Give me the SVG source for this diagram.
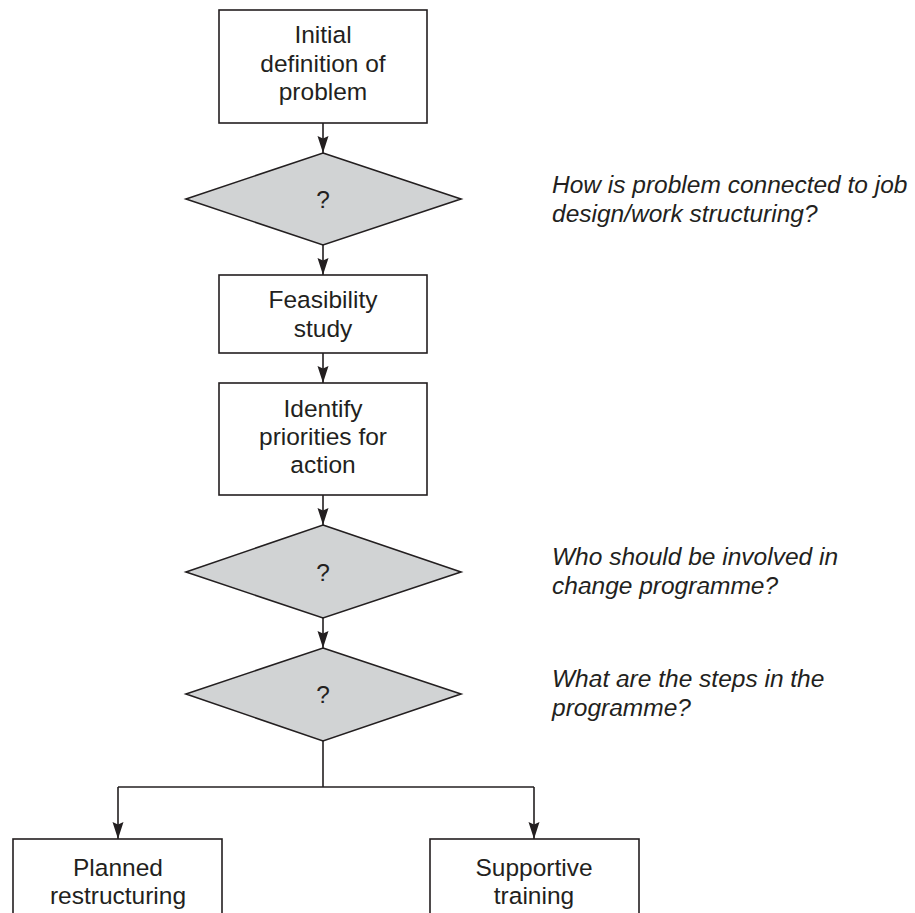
<svg xmlns="http://www.w3.org/2000/svg" width="915" height="913" viewBox="0 0 915 913">
  <defs>
    <marker id="arrow" viewBox="0 0 17 12" refX="17" refY="6" markerWidth="17" markerHeight="12" markerUnits="userSpaceOnUse" orient="auto">
      <path d="M0,0.5 L17,6 L0,11.5 L2.5,6 Z" fill="#231f20"/>
    </marker>
    <style>
      .box { fill: #ffffff; stroke: #231f20; stroke-width: 1.6; }
      .dia { fill: #d1d3d4; stroke: #231f20; stroke-width: 1.6; }
      .lbl { font-family: "Liberation Sans", Arial, sans-serif; font-size: 24.5px; fill: #231f20; text-anchor: middle; }
      .note { font-family: "Liberation Sans", Arial, sans-serif; font-size: 24.5px; font-style: italic; fill: #231f20; }
      .conn { fill: none; stroke: #231f20; stroke-width: 1.6; }
    </style>
  </defs>

  <rect width="915" height="913" fill="#ffffff"/>

  <!-- connectors -->
  <g id="connectors">
    <path class="conn" d="M323,123 V153" marker-end="url(#arrow)"/>
    <path class="conn" d="M323,245 V275" marker-end="url(#arrow)"/>
    <path class="conn" d="M323,353 V383" marker-end="url(#arrow)"/>
    <path class="conn" d="M323,495 V525" marker-end="url(#arrow)"/>
    <path class="conn" d="M323,618 V648" marker-end="url(#arrow)"/>
    <path class="conn" d="M323,741 V787"/>
    <path class="conn" d="M118,787 H534"/>
    <path class="conn" d="M118,787 V839" marker-end="url(#arrow)"/>
    <path class="conn" d="M534,787 V839" marker-end="url(#arrow)"/>
  </g>

  <g id="initial-definition">
    <rect class="box" x="219" y="10" width="208" height="113"/>
    <text class="lbl" x="323" y="43">Initial</text>
    <text class="lbl" x="323" y="72">definition of</text>
    <text class="lbl" x="323" y="100">problem</text>
  </g>

  <g id="decision-1">
    <polygon class="dia" points="323,153 461,199 323,245 186,199"/>
    <text class="lbl" x="323" y="208">?</text>
  </g>

  <g id="feasibility-study">
    <rect class="box" x="219" y="275" width="208" height="78"/>
    <text class="lbl" x="323" y="308">Feasibility</text>
    <text class="lbl" x="323" y="337">study</text>
  </g>

  <g id="identify-priorities">
    <rect class="box" x="219" y="383" width="208" height="112"/>
    <text class="lbl" x="323" y="417">Identify</text>
    <text class="lbl" x="323" y="445">priorities for</text>
    <text class="lbl" x="323" y="473">action</text>
  </g>

  <g id="decision-2">
    <polygon class="dia" points="323,525 461,572 323,618 186,572"/>
    <text class="lbl" x="323" y="581">?</text>
  </g>

  <g id="decision-3">
    <polygon class="dia" points="323,648 461,694 323,741 186,694"/>
    <text class="lbl" x="323" y="703">?</text>
  </g>

  <g id="planned-restructuring">
    <rect class="box" x="13" y="839" width="209" height="90"/>
    <text class="lbl" x="118" y="876">Planned</text>
    <text class="lbl" x="118" y="904">restructuring</text>
  </g>

  <g id="supportive-training">
    <rect class="box" x="430" y="839" width="209" height="90"/>
    <text class="lbl" x="534" y="876">Supportive</text>
    <text class="lbl" x="534" y="904">training</text>
  </g>

  <!-- questions beside the decision points -->
  <g id="notes">
    <text class="note" x="552" y="193">How is problem connected to job</text>
    <text class="note" x="552" y="222">design/work structuring?</text>
    <text class="note" x="552" y="565">Who should be involved in</text>
    <text class="note" x="552" y="594">change programme?</text>
    <text class="note" x="552" y="687">What are the steps in the</text>
    <text class="note" x="552" y="716">programme?</text>
  </g>
</svg>
